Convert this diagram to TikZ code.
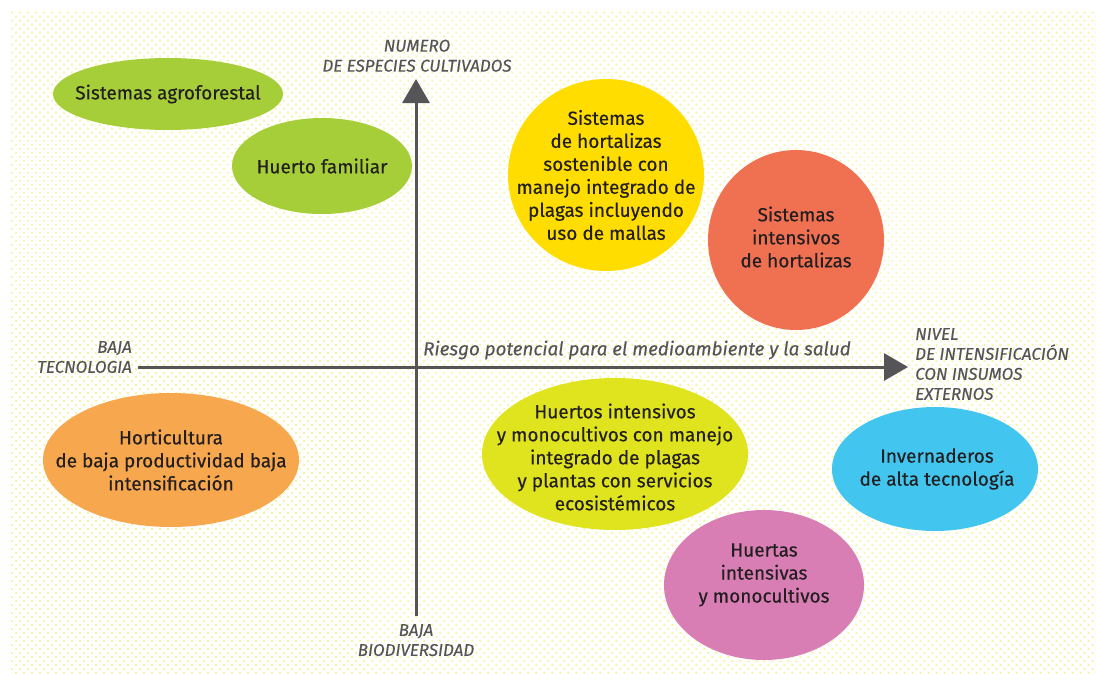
\documentclass[tikz,border=0pt]{standalone}
\usepackage{fontspec}
\setmainfont[FakeBold=0.35]{Fira Sans}
\usetikzlibrary{arrows.meta,patterns.meta}
\definecolor{dotc}{RGB}{248,244,165}
\definecolor{axisc}{RGB}{85,85,87}
\definecolor{txtc}{RGB}{35,31,32}
\definecolor{cgreen}{RGB}{166,206,57}
\definecolor{cyellow}{RGB}{255,221,0}
\definecolor{cred}{RGB}{240,112,82}
\definecolor{corange}{RGB}{247,167,77}
\definecolor{clime}{RGB}{224,228,30}
\definecolor{ccyan}{RGB}{66,198,240}
\definecolor{cpink}{RGB}{216,126,181}
\tikzset{
  blob/.style={inner sep=0pt, align=center, text=txtc,
    font=\fontsize{19}{23}\selectfont},
  axlabel/.style={text=axisc, inner sep=0pt,
    font=\fontsize{17}{20}\selectfont\itshape},
  axisline/.style={draw=axisc, line width=3pt,
    -{Triangle[width=27pt,length=24pt]}},
}
\begin{document}
\begin{tikzpicture}[x=1pt,y=-1pt]
\useasboundingbox (0,0) rectangle (1096,673);
\fill[pattern={Dots[distance=5.66pt, radius=1.35pt, angle=45]}, pattern color=dotc] (10,10) rectangle (1096,673);

% ellipses
\fill[cgreen] (168,94) ellipse [x radius=115, y radius=36];
\node[blob] (agro) at (168,94) {Sistemas agroforestal};
\fill[cgreen] (322,166) ellipse [x radius=90, y radius=48];
\node[blob] (huerto) at (322,166) {Huerto familiar};
\fill[cyellow] (606,175) ellipse [x radius=98, y radius=96];
\node[blob] (sost) at (606,175) {Sistemas\\de hortalizas\\sostenible con\\manejo integrado de\\plagas incluyendo\\uso de mallas};
\fill[cred] (796,240) ellipse [x radius=88, y radius=90];
\node[blob] (intens) at (796,237) {Sistemas\\intensivos\\de hortalizas};
\fill[corange] (171,460) ellipse [x radius=128, y radius=67];
\node[blob] (horti) at (171,460) {Horticultura\\de baja productividad baja\\intensificación};
\fill[clime] (615,454) ellipse [x radius=133, y radius=76];
\node[blob] (mono) at (615,457) {Huertos intensivos\\y monocultivos con manejo\\integrado de plagas\\y plantas con servicios\\ecosistémicos};
\fill[ccyan] (935,469) ellipse [x radius=103, y radius=62];
\node[blob] (inver) at (937,469) {Invernaderos\\de alta tecnología};
\fill[cpink] (764,585) ellipse [x radius=100, y radius=75];
\node[blob] (huertas) at (764,575) {Huertas\\intensivas\\y monocultivos};

% axes
\coordinate (vbot) at (416,616);
\coordinate (vtop) at (416,79);
\coordinate (hleft) at (138,367);
\coordinate (hright) at (908,367);
\draw[axisline] (vbot) -- (vtop);
\draw[axisline] (hleft) -- (hright);

% axis labels
\node[axlabel, align=center, anchor=south] (ltop) at (417,72) {NUMERO\\DE ESPECIES CULTIVADOS};
\node[axlabel, align=right, anchor=east] (lleft) at (132,357) {BAJA\\TECNOLOGIA};
\node[axlabel, align=left, anchor=west] (lright) at (915,364) {NIVEL\\DE INTENSIFICACIÓN\\CON INSUMOS\\EXTERNOS};
\node[axlabel, align=center, anchor=north] (lbot) at (416,624) {BAJA\\BIODIVERSIDAD};
\node[text=axisc, inner sep=0pt, anchor=west, font=\fontsize{18.8}{22}\selectfont\itshape] (riesgo) at (423,350) {Riesgo potencial para el medioambiente y la salud};
\end{tikzpicture}
\end{document}
